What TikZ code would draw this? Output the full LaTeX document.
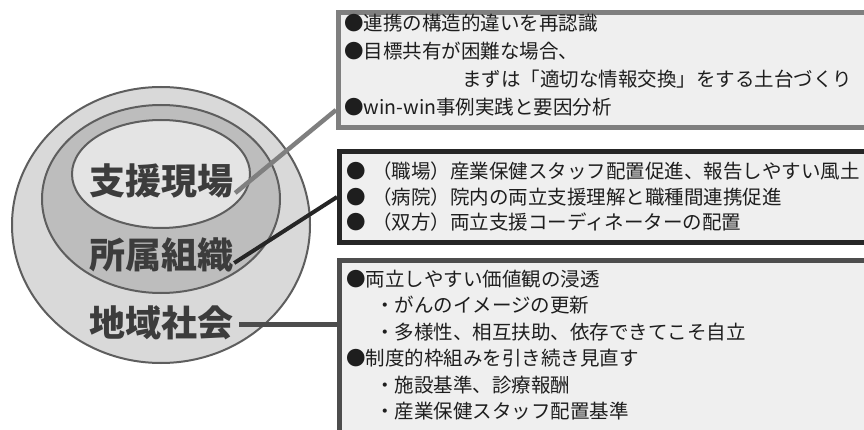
\documentclass[tikz,border=0pt]{standalone}
\usepackage{fontspec}
\setmainfont{Noto Sans CJK JP}
\definecolor{outerfill}{HTML}{D9D9D9}
\definecolor{midfill}{HTML}{BDBDBD}
\definecolor{innerfill}{HTML}{E4E4E4}
\definecolor{ringline}{HTML}{5E5E5E}
\definecolor{labeltext}{HTML}{3C3C3C}
\definecolor{boxfill}{HTML}{EFEFEF}
\definecolor{boxa}{HTML}{7F7F7F}
\definecolor{boxb}{HTML}{262626}
\definecolor{boxc}{HTML}{4D4D4D}
\definecolor{bodytext}{HTML}{1E1E1E}
\tikzset{
  ring/.style={draw=ringline, line width=2pt},
  ringlabel/.style={font=\fontsize{36}{40}\selectfont\bfseries, text=labeltext, inner sep=0pt},
  infobox/.style={fill=boxfill, line width=5pt, anchor=north west, inner sep=0pt},
  itemtext/.style={font=\fontsize{19.5}{22}\selectfont, text=bodytext, anchor=west, inner sep=0pt},
  linka/.style={draw=boxa, line width=4.5pt},
  linkb/.style={draw=boxb, line width=4pt},
  linkc/.style={draw=boxc, line width=5pt},
}
\begin{document}
\begin{tikzpicture}[x=1pt,y=-1pt]
\useasboundingbox (0,0) rectangle (864,430);
\clip (0,0) rectangle (864,430);
\fill[white] (0,0) rectangle (864,430);
% rings
\draw[ring, fill=outerfill] (161,225) ellipse [x radius=149pt, y radius=138pt];
\draw[ring, fill=midfill] (161,199) ellipse [x radius=119pt, y radius=94pt];
\draw[ring, fill=innerfill] (161,174) ellipse [x radius=89pt, y radius=54pt];
\node[ringlabel] (genba) at (161,181) {支援現場};
\node[ringlabel] (soshiki) at (161,255) {所属組織};
\node[ringlabel] (chiiki) at (161,323) {地域社会};
% boxes
\node[infobox, draw=boxa, minimum width=560pt, minimum height=115pt] (box1) at (335.5,10) {};
\node[infobox, draw=boxb, minimum width=560pt, minimum height=91pt] (box2) at (337,149) {};
\node[infobox, draw=boxc, minimum width=560pt, minimum height=172pt] (box3) at (337,258) {};
% box 1 text
\node[itemtext] (a1) at (344,23) {●連携の構造的違いを再認識};
\node[itemtext] (a2) at (344,51) {●目標共有が困難な場合、};
\node[itemtext] (a3) at (462,79) {まずは「適切な情報交換」をする土台づくり};
\node[itemtext] (a4) at (344,107) {●win-win事例実践と要因分析};
% box 2 text
\node[itemtext] (b1d) at (346,171) {●};
\node[itemtext] (b1) at (372,171) {（職場）産業保健スタッフ配置促進、報告しやすい風土};
\node[itemtext] (b2d) at (346,197) {●};
\node[itemtext] (b2) at (372,197) {（病院）院内の両立支援理解と職種間連携促進};
\node[itemtext] (b3d) at (346,222) {●};
\node[itemtext] (b3) at (372,222) {（双方）両立支援コーディネーターの配置};
% box 3 text
\node[itemtext] (c1) at (346,279) {●両立しやすい価値観の浸透};
\node[itemtext] (c2) at (375,305.5) {・がんのイメージの更新};
\node[itemtext] (c3) at (375,332) {・多様性、相互扶助、依存できてこそ自立};
\node[itemtext] (c4) at (346,358.5) {●制度的枠組みを引き続き見直す};
\node[itemtext] (c5) at (375,385) {・施設基準、診療報酬};
\node[itemtext] (c6) at (375,411.5) {・産業保健スタッフ配置基準};
% connectors
\coordinate (e1) at (336,110);
\coordinate (e2) at (337,197);
\coordinate (e3) at (337,324);
\draw[linka] ([xshift=2pt,yshift=-12pt]genba.east) -- (e1);
\draw[linkb] ([xshift=1pt,yshift=-8pt]soshiki.east) -- (e2);
\draw[linkc] ([xshift=6pt]chiiki.east |- e3) -- (e3);
\end{tikzpicture}
\end{document}
